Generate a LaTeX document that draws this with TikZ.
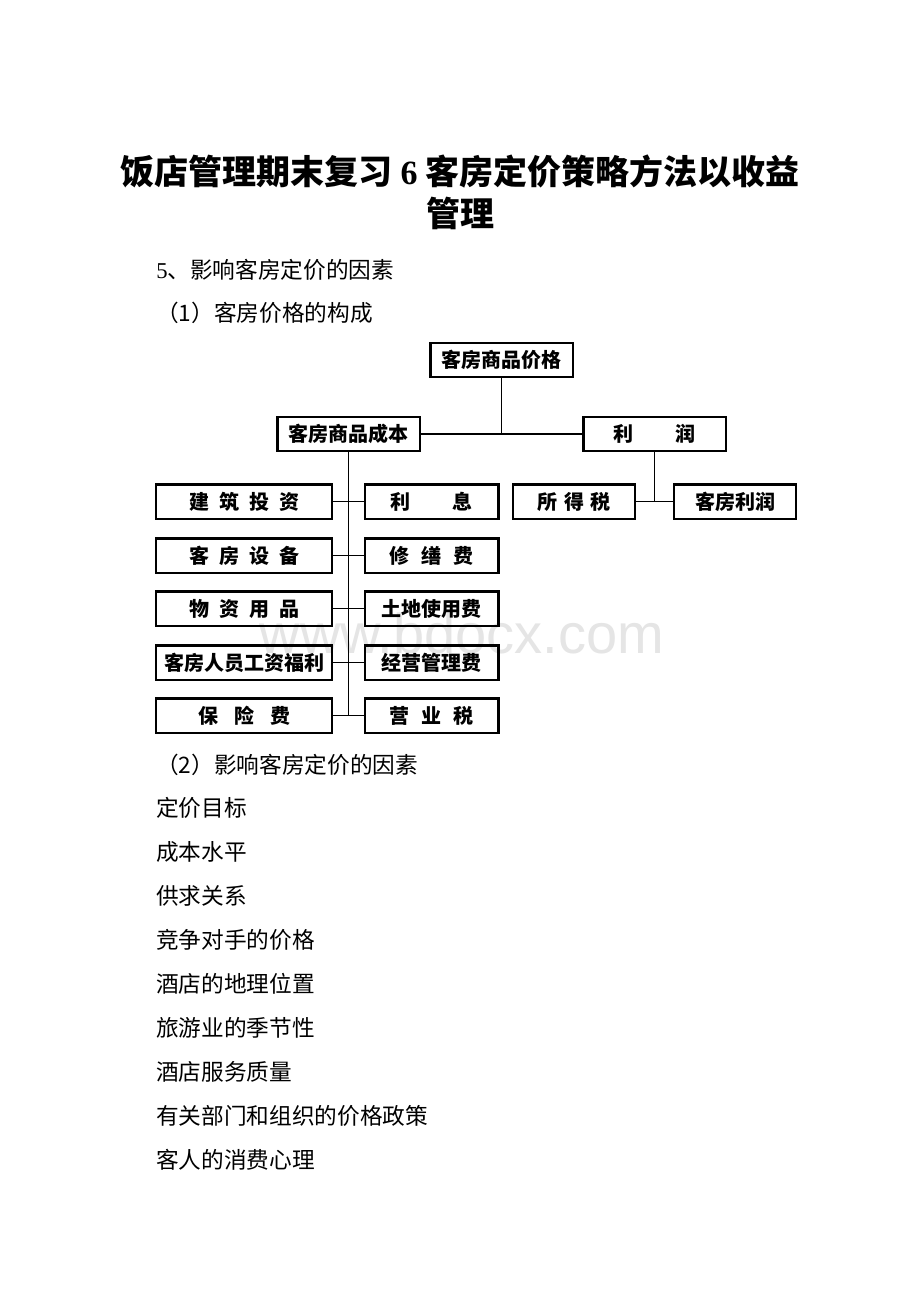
\documentclass[tikz,border=0pt]{standalone}
\usepackage{fontspec}
\setmainfont{Liberation Serif}
\setsansfont{Liberation Sans}
\newfontfamily\cjk{Noto Sans CJK SC}
\newcommand\gp[1]{\hspace{#1pt}}
\begin{document}
\begin{tikzpicture}[x=0.75pt,y=-0.75pt,
  box/.style={draw, line width=2pt, inner sep=0pt, minimum height=26pt,
    font=\cjk\bfseries\fontsize{15}{15}\selectfont},
  conn/.style={line width=1.1pt},
  body/.style={anchor=west, inner sep=0pt, font=\cjk\fontsize{17}{17}\selectfont},
  ttl/.style={inner sep=0pt, font=\cjk\bfseries\fontsize{25.5}{25.5}\selectfont}]
\useasboundingbox (0,0) rectangle (920,1302);
\fill[white] (0,0) rectangle (920,1302);
% watermark
\node[inner sep=0pt, text=black!10, font=\sffamily\fontsize{42}{42}\selectfont] (wm) at (462,633) {www.bdocx.com};
% title
\node[ttl] (t1) at (460,172) {饭店管理期末复习\hspace{6pt}{\rmfamily\bfseries 6}\hspace{6pt}客房定价策略方法以收益};
\node[ttl] (t2) at (460,213) {管理};
% section text
\node[body] (s5) at (156,270) {{\rmfamily 5}、影响客房定价的因素};
\node[body] (s1) at (156,313) {（1）客房价格的构成};
% boxes
\node[box, minimum width=107pt, minimum height=25.5pt] (top) at (501.5,360) {客房商品价格};
\node[box, minimum width=107pt, minimum height=25.5pt] (cost) at (348.5,434) {客房商品成本};
\node[box, minimum width=107pt, minimum height=25.5pt] (profit) at (654.5,434) {利\gp{31}润};
\node[box, minimum width=91.5pt] (tax) at (574,501.5) {所\gp{5}得\gp{5}税};
\node[box, minimum width=91.5pt] (rp) at (735,501.5) {客房利润};
\node[box, minimum width=132pt] (l1) at (244,501.5) {建\gp{7.5}筑\gp{7.5}投\gp{7.5}资};
\node[box, minimum width=132pt] (l2) at (244,555.5) {客\gp{7.5}房\gp{7.5}设\gp{7.5}备};
\node[box, minimum width=132pt] (l3) at (244,608.5) {物\gp{7.5}资\gp{7.5}用\gp{7.5}品};
\node[box, minimum width=132pt] (l4) at (244,662.5) {客房人员工资福利};
\node[box, minimum width=132pt] (l5) at (244,715.5) {保\gp{12}险\gp{12}费};
\node[box, minimum width=100pt] (r1) at (431.5,501.5) {利\gp{32}息};
\node[box, minimum width=100pt] (r2) at (431.5,555.5) {修\gp{9}缮\gp{9}费};
\node[box, minimum width=100pt] (r3) at (431.5,608.5) {土地使用费};
\node[box, minimum width=100pt] (r4) at (431.5,662.5) {经营管理费};
\node[box, minimum width=100pt] (r5) at (431.5,715.5) {营\gp{9}业\gp{9}税};
% connectors
\draw[conn] (cost.east) -- (profit.west);
\draw[conn] (top.south) -- (top.south |- cost.east);
\draw[conn] (profit.south) -- (profit.south |- tax.east);
\draw[conn] (tax.east) -- (rp.west);
\draw[conn] (cost.south) -- (cost.south |- l5.east);
\foreach \i in {1,...,5} {\draw[conn] (l\i.east) -- (r\i.west);}
% list
\node[body] (s2) at (156,765) {（2）影响客房定价的因素};
\node[body] (a1) at (156,808) {定价目标};
\node[body] (a2) at (156,852) {成本水平};
\node[body] (a3) at (156,896) {供求关系};
\node[body] (a4) at (156,940) {竞争对手的价格};
\node[body] (a5) at (156,984) {酒店的地理位置};
\node[body] (a6) at (156,1028) {旅游业的季节性};
\node[body] (a7) at (156,1072) {酒店服务质量};
\node[body] (a8) at (156,1116) {有关部门和组织的价格政策};
\node[body] (a9) at (156,1160) {客人的消费心理};
\end{tikzpicture}
\end{document}
